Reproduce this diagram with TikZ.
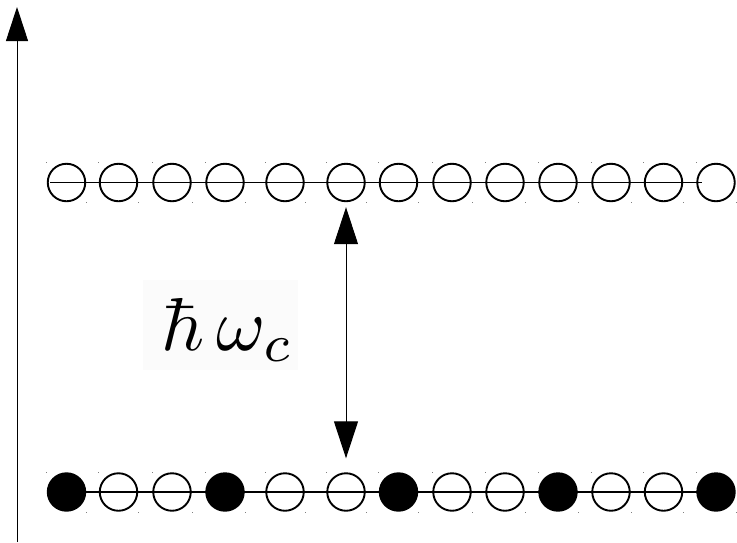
\documentclass[tikz,border=0pt]{standalone}
\usetikzlibrary{arrows.meta}
\begin{document}
\begin{tikzpicture}[x=1pt,y=-1pt,
  site/.style={circle,draw,line width=1.9pt,minimum size=37.5pt,inner sep=0pt},
  empty/.style={site},
  full/.style={site,fill=black},
  level/.style={line width=1.2pt},
  handle/.style={fill=black!50},
  axisarrow/.style={line width=1pt,-{Triangle[length=34pt,width=22pt]}},
  gaparrow/.style={line width=1pt,{Triangle[length=37pt,width=24pt]}-{Triangle[length=37pt,width=24pt]}}]
\useasboundingbox (0,0) rectangle (737,542);

% energy axis
\coordinate (axbot) at (17,542);
\coordinate (axtop) at (17,7);
\draw[axisarrow] (axbot) -- (axtop);

% level lines
\coordinate (tl) at (50,182.5);
\coordinate (tr) at (702,182.5);
\coordinate (bl) at (50,492);
\coordinate (br) at (702,492);
\draw[level] (tl) -- (tr);
\draw[level] (bl) -- (br);

% sites on both levels
\foreach \x [count=\i] in {66.5,118.5,172,225,285,346,398.5,452,505,558,611,663.5,716}{
  \node[empty] (t\i) at (\x,182.5) {};
  \fill[handle] (\x-20.5,162) rectangle ++(1.1,1.1);
  \fill[handle] (\x+19.5,202) rectangle ++(1.1,1.1);
  \pgfmathtruncatemacro{\r}{mod(\i-1,3)}
  \ifnum\r=0
    \node[full] (b\i) at (\x,492) {};
  \else
    \node[empty] (b\i) at (\x,492) {};
  \fi
  \fill[handle] (\x-20.5,471.5) rectangle ++(1.1,1.1);
  \fill[handle] (\x+19.5,511.5) rectangle ++(1.1,1.1);
}

% cyclotron gap
\draw[gaparrow,shorten <=5pt,shorten >=14pt] (t6.south) -- (b6.north);

% gap label
\fill[black!1.5] (143,280) rectangle (298,370);
\node[anchor=base west,inner sep=0pt] (lbl) at (161,350) {\scalebox{7.5}{$\hbar\,\omega_c$}};
\end{tikzpicture}
\end{document}
